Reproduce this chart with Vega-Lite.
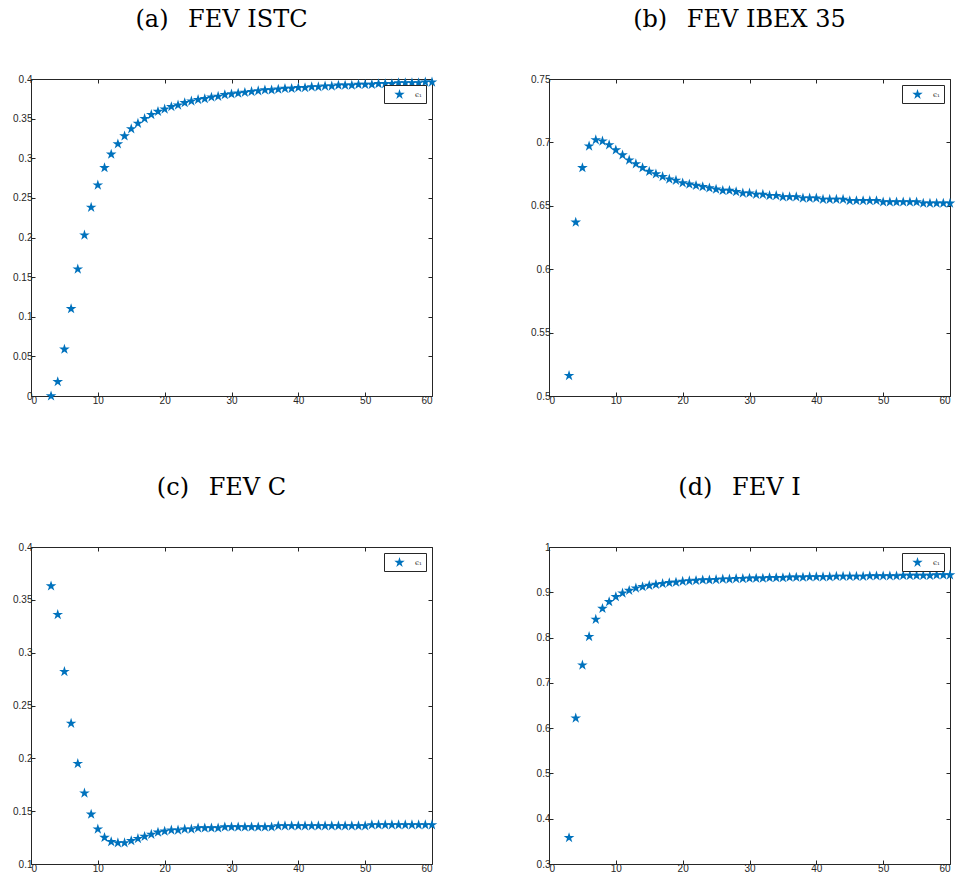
{
  "$schema": "https://vega.github.io/schema/vega-lite/v6.json",
  "padding": {"left": 12, "top": 8, "right": 0, "bottom": 0},
  "background": "white",
  "config": {
    "view": {"stroke": null},
    "axis": {"domainColor": "#262626", "tickColor": "#262626", "tickSize": -4, "labelFont": "Liberation Sans", "labelFontSize": 10, "labelColor": "#262626", "grid": false, "title": null, "labelPadding": 3, "domainWidth": 1, "tickWidth": 1},
    "title": {"font": "DejaVu Serif", "fontSize": 24, "fontWeight": "normal", "color": "black", "offset": 42, "anchor": "middle", "dx": -10},
    "legend": {"title": null, "orient": "top-right", "offset": 6, "strokeColor": "#262626", "fillColor": "white", "padding": 4, "symbolType": "M0,-1L0.225,-0.309L0.951,-0.309L0.363,0.118L0.588,0.809L0,0.382L-0.588,0.809L-0.363,0.118L-0.951,-0.309L-0.225,-0.309Z", "symbolSize": 120, "symbolOffset": 6, "labelOffset": 10, "labelFontSize": 7, "labelFont": "DejaVu Serif", "labelColor": "#262626", "symbolStrokeWidth": 0}
  },
  "data": {"values": [
    {"p":"a","x":3,"y":0.000},{"p":"a","x":4,"y":0.018},{"p":"a","x":5,"y":0.059},{"p":"a","x":6,"y":0.110},{"p":"a","x":7,"y":0.160},{"p":"a","x":8,"y":0.203},{"p":"a","x":9,"y":0.238},{"p":"a","x":10,"y":0.266},{"p":"a","x":11,"y":0.288},{"p":"a","x":12,"y":0.305},{"p":"a","x":13,"y":0.318},{"p":"a","x":14,"y":0.328},{"p":"a","x":15,"y":0.337},{"p":"a","x":16,"y":0.344},{"p":"a","x":17,"y":0.350},{"p":"a","x":18,"y":0.355},{"p":"a","x":19,"y":0.359},{"p":"a","x":20,"y":0.362},{"p":"a","x":21,"y":0.365},{"p":"a","x":22,"y":0.367},{"p":"a","x":23,"y":0.370},{"p":"a","x":24,"y":0.372},{"p":"a","x":25,"y":0.374},{"p":"a","x":26,"y":0.375},{"p":"a","x":27,"y":0.377},{"p":"a","x":28,"y":0.378},{"p":"a","x":29,"y":0.380},{"p":"a","x":30,"y":0.381},{"p":"a","x":31,"y":0.382},{"p":"a","x":32,"y":0.383},{"p":"a","x":33,"y":0.384},{"p":"a","x":34,"y":0.385},{"p":"a","x":35,"y":0.386},{"p":"a","x":36,"y":0.386},{"p":"a","x":37,"y":0.387},{"p":"a","x":38,"y":0.388},{"p":"a","x":39,"y":0.388},{"p":"a","x":40,"y":0.389},{"p":"a","x":41,"y":0.389},{"p":"a","x":42,"y":0.390},{"p":"a","x":43,"y":0.390},{"p":"a","x":44,"y":0.391},{"p":"a","x":45,"y":0.391},{"p":"a","x":46,"y":0.392},{"p":"a","x":47,"y":0.392},{"p":"a","x":48,"y":0.392},{"p":"a","x":49,"y":0.393},{"p":"a","x":50,"y":0.393},{"p":"a","x":51,"y":0.393},{"p":"a","x":52,"y":0.394},{"p":"a","x":53,"y":0.394},{"p":"a","x":54,"y":0.394},{"p":"a","x":55,"y":0.395},{"p":"a","x":56,"y":0.395},{"p":"a","x":57,"y":0.395},{"p":"a","x":58,"y":0.395},{"p":"a","x":59,"y":0.396},{"p":"a","x":60,"y":0.396},
    {"p":"b","x":3,"y":0.516},{"p":"b","x":4,"y":0.637},{"p":"b","x":5,"y":0.680},{"p":"b","x":6,"y":0.697},{"p":"b","x":7,"y":0.702},{"p":"b","x":8,"y":0.701},{"p":"b","x":9,"y":0.698},{"p":"b","x":10,"y":0.694},{"p":"b","x":11,"y":0.690},{"p":"b","x":12,"y":0.686},{"p":"b","x":13,"y":0.683},{"p":"b","x":14,"y":0.680},{"p":"b","x":15,"y":0.677},{"p":"b","x":16,"y":0.675},{"p":"b","x":17,"y":0.673},{"p":"b","x":18,"y":0.671},{"p":"b","x":19,"y":0.670},{"p":"b","x":20,"y":0.668},{"p":"b","x":21,"y":0.667},{"p":"b","x":22,"y":0.666},{"p":"b","x":23,"y":0.665},{"p":"b","x":24,"y":0.664},{"p":"b","x":25,"y":0.663},{"p":"b","x":26,"y":0.662},{"p":"b","x":27,"y":0.662},{"p":"b","x":28,"y":0.661},{"p":"b","x":29,"y":0.660},{"p":"b","x":30,"y":0.660},{"p":"b","x":31,"y":0.659},{"p":"b","x":32,"y":0.659},{"p":"b","x":33,"y":0.658},{"p":"b","x":34,"y":0.658},{"p":"b","x":35,"y":0.657},{"p":"b","x":36,"y":0.657},{"p":"b","x":37,"y":0.657},{"p":"b","x":38,"y":0.656},{"p":"b","x":39,"y":0.656},{"p":"b","x":40,"y":0.656},{"p":"b","x":41,"y":0.655},{"p":"b","x":42,"y":0.655},{"p":"b","x":43,"y":0.655},{"p":"b","x":44,"y":0.655},{"p":"b","x":45,"y":0.654},{"p":"b","x":46,"y":0.654},{"p":"b","x":47,"y":0.654},{"p":"b","x":48,"y":0.654},{"p":"b","x":49,"y":0.654},{"p":"b","x":50,"y":0.653},{"p":"b","x":51,"y":0.653},{"p":"b","x":52,"y":0.653},{"p":"b","x":53,"y":0.653},{"p":"b","x":54,"y":0.653},{"p":"b","x":55,"y":0.653},{"p":"b","x":56,"y":0.652},{"p":"b","x":57,"y":0.652},{"p":"b","x":58,"y":0.652},{"p":"b","x":59,"y":0.652},{"p":"b","x":60,"y":0.652},
    {"p":"c","x":3,"y":0.363},{"p":"c","x":4,"y":0.336},{"p":"c","x":5,"y":0.282},{"p":"c","x":6,"y":0.233},{"p":"c","x":7,"y":0.195},{"p":"c","x":8,"y":0.167},{"p":"c","x":9,"y":0.147},{"p":"c","x":10,"y":0.133},{"p":"c","x":11,"y":0.125},{"p":"c","x":12,"y":0.121},{"p":"c","x":13,"y":0.120},{"p":"c","x":14,"y":0.120},{"p":"c","x":15,"y":0.122},{"p":"c","x":16,"y":0.124},{"p":"c","x":17,"y":0.126},{"p":"c","x":18,"y":0.128},{"p":"c","x":19,"y":0.130},{"p":"c","x":20,"y":0.131},{"p":"c","x":21,"y":0.132},{"p":"c","x":22,"y":0.132},{"p":"c","x":23,"y":0.133},{"p":"c","x":24,"y":0.133},{"p":"c","x":25,"y":0.134},{"p":"c","x":26,"y":0.134},{"p":"c","x":27,"y":0.134},{"p":"c","x":28,"y":0.134},{"p":"c","x":29,"y":0.135},{"p":"c","x":30,"y":0.135},{"p":"c","x":31,"y":0.135},{"p":"c","x":32,"y":0.135},{"p":"c","x":33,"y":0.135},{"p":"c","x":34,"y":0.135},{"p":"c","x":35,"y":0.135},{"p":"c","x":36,"y":0.135},{"p":"c","x":37,"y":0.136},{"p":"c","x":38,"y":0.136},{"p":"c","x":39,"y":0.136},{"p":"c","x":40,"y":0.136},{"p":"c","x":41,"y":0.136},{"p":"c","x":42,"y":0.136},{"p":"c","x":43,"y":0.136},{"p":"c","x":44,"y":0.136},{"p":"c","x":45,"y":0.136},{"p":"c","x":46,"y":0.136},{"p":"c","x":47,"y":0.136},{"p":"c","x":48,"y":0.136},{"p":"c","x":49,"y":0.136},{"p":"c","x":50,"y":0.136},{"p":"c","x":51,"y":0.137},{"p":"c","x":52,"y":0.137},{"p":"c","x":53,"y":0.137},{"p":"c","x":54,"y":0.137},{"p":"c","x":55,"y":0.137},{"p":"c","x":56,"y":0.137},{"p":"c","x":57,"y":0.137},{"p":"c","x":58,"y":0.137},{"p":"c","x":59,"y":0.137},{"p":"c","x":60,"y":0.137},
    {"p":"d","x":3,"y":0.358},{"p":"d","x":4,"y":0.622},{"p":"d","x":5,"y":0.739},{"p":"d","x":6,"y":0.802},{"p":"d","x":7,"y":0.840},{"p":"d","x":8,"y":0.864},{"p":"d","x":9,"y":0.879},{"p":"d","x":10,"y":0.890},{"p":"d","x":11,"y":0.898},{"p":"d","x":12,"y":0.904},{"p":"d","x":13,"y":0.909},{"p":"d","x":14,"y":0.912},{"p":"d","x":15,"y":0.915},{"p":"d","x":16,"y":0.917},{"p":"d","x":17,"y":0.919},{"p":"d","x":18,"y":0.921},{"p":"d","x":19,"y":0.922},{"p":"d","x":20,"y":0.924},{"p":"d","x":21,"y":0.925},{"p":"d","x":22,"y":0.926},{"p":"d","x":23,"y":0.927},{"p":"d","x":24,"y":0.927},{"p":"d","x":25,"y":0.928},{"p":"d","x":26,"y":0.929},{"p":"d","x":27,"y":0.929},{"p":"d","x":28,"y":0.930},{"p":"d","x":29,"y":0.930},{"p":"d","x":30,"y":0.931},{"p":"d","x":31,"y":0.931},{"p":"d","x":32,"y":0.931},{"p":"d","x":33,"y":0.932},{"p":"d","x":34,"y":0.932},{"p":"d","x":35,"y":0.932},{"p":"d","x":36,"y":0.933},{"p":"d","x":37,"y":0.933},{"p":"d","x":38,"y":0.933},{"p":"d","x":39,"y":0.934},{"p":"d","x":40,"y":0.934},{"p":"d","x":41,"y":0.934},{"p":"d","x":42,"y":0.934},{"p":"d","x":43,"y":0.935},{"p":"d","x":44,"y":0.935},{"p":"d","x":45,"y":0.935},{"p":"d","x":46,"y":0.935},{"p":"d","x":47,"y":0.935},{"p":"d","x":48,"y":0.936},{"p":"d","x":49,"y":0.936},{"p":"d","x":50,"y":0.936},{"p":"d","x":51,"y":0.936},{"p":"d","x":52,"y":0.936},{"p":"d","x":53,"y":0.937},{"p":"d","x":54,"y":0.937},{"p":"d","x":55,"y":0.937},{"p":"d","x":56,"y":0.937},{"p":"d","x":57,"y":0.937},{"p":"d","x":58,"y":0.938},{"p":"d","x":59,"y":0.938},{"p":"d","x":60,"y":0.938}
  ]},
  "columns": 2,
  "spacing": {"row": 151, "column": 117},
  "bounds": "flush",
  "resolve": {"scale": {"color": "independent"}, "legend": {"color": "independent"}},
  "concat": [
    {
      "title": {"text": "(a)\u2002\u00a0FEV ISTC"},
      "width": 401, "height": 317,
      "transform": [{"filter": "datum.p === 'a'"}],
      "layer": [
        {"mark": {"type": "point", "shape": "M0,-1L0.225,-0.309L0.951,-0.309L0.363,0.118L0.588,0.809L0,0.382L-0.588,0.809L-0.363,0.118L-0.951,-0.309L-0.225,-0.309Z", "filled": true, "size": 125, "opacity": 1},
         "encoding": {
           "x": {"field": "x", "type": "quantitative", "scale": {"domain": [0, 60], "nice": false}, "axis": {"orient": "bottom", "values": [0,10,20,30,40,50,60]}},
           "y": {"field": "y", "type": "quantitative", "scale": {"domain": [0, 0.4], "nice": false, "zero": false}, "axis": {"orient": "left", "values": [0,0.05,0.1,0.15,0.2,0.25,0.3,0.35,0.4], "format": ".2~f"}},
           "color": {"datum": "ϵ₁", "type": "nominal", "scale": {"range": ["#0072BD"]}}
         }},
        {"mark": {"type": "point", "opacity": 0},
         "encoding": {
           "x": {"field": "x", "type": "quantitative", "axis": {"orient": "top", "labels": false, "values": [0,10,20,30,40,50,60]}},
           "y": {"field": "y", "type": "quantitative", "axis": {"orient": "right", "labels": false, "values": [0,0.05,0.1,0.15,0.2,0.25,0.3,0.35,0.4]}}
         }}
      ],
      "resolve": {"axis": {"x": "independent", "y": "independent"}}
    },
    {
      "title": {"text": "(b)\u2002\u00a0FEV IBEX 35"},
      "width": 401, "height": 317,
      "transform": [{"filter": "datum.p === 'b'"}],
      "layer": [
        {"mark": {"type": "point", "shape": "M0,-1L0.225,-0.309L0.951,-0.309L0.363,0.118L0.588,0.809L0,0.382L-0.588,0.809L-0.363,0.118L-0.951,-0.309L-0.225,-0.309Z", "filled": true, "size": 125, "opacity": 1},
         "encoding": {
           "x": {"field": "x", "type": "quantitative", "scale": {"domain": [0, 60], "nice": false}, "axis": {"orient": "bottom", "values": [0,10,20,30,40,50,60]}},
           "y": {"field": "y", "type": "quantitative", "scale": {"domain": [0.5, 0.75], "nice": false, "zero": false}, "axis": {"orient": "left", "values": [0.5,0.55,0.6,0.65,0.7,0.75], "format": ".2~f"}},
           "color": {"datum": "ϵ₁", "type": "nominal", "scale": {"range": ["#0072BD"]}}
         }},
        {"mark": {"type": "point", "opacity": 0},
         "encoding": {
           "x": {"field": "x", "type": "quantitative", "axis": {"orient": "top", "labels": false, "values": [0,10,20,30,40,50,60]}},
           "y": {"field": "y", "type": "quantitative", "axis": {"orient": "right", "labels": false, "values": [0.5,0.55,0.6,0.65,0.7,0.75]}}
         }}
      ],
      "resolve": {"axis": {"x": "independent", "y": "independent"}}
    },
    {
      "title": {"text": "(c)\u2002\u00a0FEV C"},
      "width": 401, "height": 317,
      "transform": [{"filter": "datum.p === 'c'"}],
      "layer": [
        {"mark": {"type": "point", "shape": "M0,-1L0.225,-0.309L0.951,-0.309L0.363,0.118L0.588,0.809L0,0.382L-0.588,0.809L-0.363,0.118L-0.951,-0.309L-0.225,-0.309Z", "filled": true, "size": 125, "opacity": 1},
         "encoding": {
           "x": {"field": "x", "type": "quantitative", "scale": {"domain": [0, 60], "nice": false}, "axis": {"orient": "bottom", "values": [0,10,20,30,40,50,60]}},
           "y": {"field": "y", "type": "quantitative", "scale": {"domain": [0.1, 0.4], "nice": false, "zero": false}, "axis": {"orient": "left", "values": [0.1,0.15,0.2,0.25,0.3,0.35,0.4], "format": ".2~f"}},
           "color": {"datum": "ϵ₁", "type": "nominal", "scale": {"range": ["#0072BD"]}}
         }},
        {"mark": {"type": "point", "opacity": 0},
         "encoding": {
           "x": {"field": "x", "type": "quantitative", "axis": {"orient": "top", "labels": false, "values": [0,10,20,30,40,50,60]}},
           "y": {"field": "y", "type": "quantitative", "axis": {"orient": "right", "labels": false, "values": [0.1,0.15,0.2,0.25,0.3,0.35,0.4]}}
         }}
      ],
      "resolve": {"axis": {"x": "independent", "y": "independent"}}
    },
    {
      "title": {"text": "(d)\u2002\u00a0FEV I"},
      "width": 401, "height": 317,
      "transform": [{"filter": "datum.p === 'd'"}],
      "layer": [
        {"mark": {"type": "point", "shape": "M0,-1L0.225,-0.309L0.951,-0.309L0.363,0.118L0.588,0.809L0,0.382L-0.588,0.809L-0.363,0.118L-0.951,-0.309L-0.225,-0.309Z", "filled": true, "size": 125, "opacity": 1},
         "encoding": {
           "x": {"field": "x", "type": "quantitative", "scale": {"domain": [0, 60], "nice": false}, "axis": {"orient": "bottom", "values": [0,10,20,30,40,50,60]}},
           "y": {"field": "y", "type": "quantitative", "scale": {"domain": [0.3, 1], "nice": false, "zero": false}, "axis": {"orient": "left", "values": [0.3,0.4,0.5,0.6,0.7,0.8,0.9,1], "format": ".2~f"}},
           "color": {"datum": "ϵ₁", "type": "nominal", "scale": {"range": ["#0072BD"]}}
         }},
        {"mark": {"type": "point", "opacity": 0},
         "encoding": {
           "x": {"field": "x", "type": "quantitative", "axis": {"orient": "top", "labels": false, "values": [0,10,20,30,40,50,60]}},
           "y": {"field": "y", "type": "quantitative", "axis": {"orient": "right", "labels": false, "values": [0.3,0.4,0.5,0.6,0.7,0.8,0.9,1]}}
         }}
      ],
      "resolve": {"axis": {"x": "independent", "y": "independent"}}
    }
  ]
}
